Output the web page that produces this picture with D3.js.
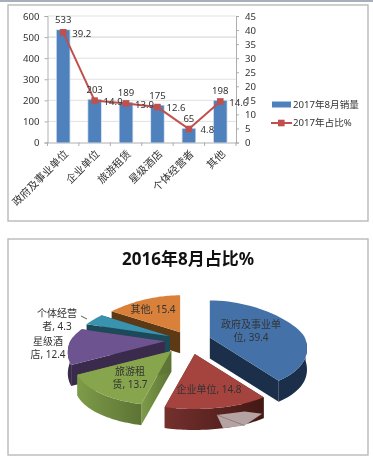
<!DOCTYPE html>
<html><head><meta charset="utf-8">
<script src="https://cdnjs.cloudflare.com/ajax/libs/d3/7.8.5/d3.min.js"></script>
<style>html,body{margin:0;padding:0;background:#fff;overflow:hidden}svg{display:block;filter:blur(.35px)}text{font-family:"Noto Sans","Noto Sans CJK SC",sans-serif;fill:#333}</style>
</head><body><script>
const categories=["政府及事业单位","企业单位","旅游租赁","星级酒店","个体经营者","其他"];
const sales2017=[533,203,189,175,65,198];
const share2017=[39.2,14.9,13.9,12.6,4.8,14.6];
const salesTicks=[0,100,200,300,400,500,600];
const shareTicks=[0,5,10,15,20,25,30,35,40,45];
const seriesNames=["2017年8月销量","2017年占比%"];
const pieTitle="2016年8月占比%";
const pieNames=["政府及事业单位","企业单位","旅游租赁","星级酒店","个体经营者","其他"];
const pieValues=[39.4,14.8,13.7,12.4,4.3,15.4];
const pieLabelLines=[["政府及事业单","位, 39.4"],["企业单位, 14.8"],["旅游租","赁, 13.7"],["星级酒","店, 12.4"],["个体经营","者, 4.3"],["其他, 15.4"]];
const pieTop=["#4472a8","#a5433f","#87a54c","#6d5390","#3a93ae","#d9813a"];
const pieWallA=["#1b2f4a","#74302d","#7d9c49","#3a2a4c","#1c4a58","#5e3a14"];
const pieWallB=["#1b2f4a","#431815","#5d7335","#3a2a4c","#1c4a58","#5e3a14"];

const svg=d3.select("body").append("svg").attr("width",373).attr("height",468);
svg.append("rect").attr("width",373).attr("height",468).attr("fill","#fff");
svg.append("rect").attr("width",373).attr("height",2).attr("fill","#a9aeb9");
const frame=(x,y,w,h)=>svg.append("rect").attr("x",x).attr("y",y).attr("width",w).attr("height",h).attr("fill","#fff").attr("stroke","#b4b4b4").attr("stroke-width",1.3);
frame(8,5,360,216);frame(8,239,360,216);

/* combo chart */
const x=d3.scaleBand().domain(categories).range([47.5,236]);
const yL=d3.scaleLinear().domain([0,600]).range([142.5,16]);
const yR=d3.scaleLinear().domain([0,45]).range([142.5,16]);
const g=svg.append("g");
g.selectAll(".grid").data(salesTicks.slice(1)).join("line").attr("x1",47.5).attr("x2",236).attr("y1",d=>yL(d)).attr("y2",d=>yL(d)).attr("stroke",d=>d===500?"#e4e4e4":"#d9d9d9").attr("stroke-width",d=>d===500?1.6:.8);
const axL=g.append("g").attr("transform","translate(47.5,0)").call(d3.axisLeft(yL).tickValues(salesTicks).tickSize(3).tickPadding(5));
const axR=g.append("g").attr("transform","translate(236,0)").call(d3.axisRight(yR).tickValues(shareTicks).tickSize(3).tickPadding(6));
const axB=g.append("g").attr("transform","translate(0,142.5)").call(d3.axisBottom(x).tickSize(0).tickFormat(""));
[axL,axR,axB].forEach(a=>{a.selectAll("path,line").attr("stroke","#a6a6a6").attr("stroke-width",.9);a.selectAll("text").attr("font-size",9.6).attr("fill","#444");});
g.selectAll(".xt").data(d3.range(7)).join("line").attr("x1",d=>47.5+d*x.step()).attr("x2",d=>47.5+d*x.step()).attr("y1",142.5).attr("y2",146).attr("stroke","#a6a6a6").attr("stroke-width",.9);
const barW=12.7,cx=c=>x(c)+x.bandwidth()/2;
g.selectAll(".halo").data(categories).join("rect").attr("x",c=>cx(c)-barW/2-.8).attr("width",barW+1.6).attr("y",(c,i)=>yL(sales2017[i])-.6).attr("height",(c,i)=>yL(0)-yL(sales2017[i])+.6).attr("fill","#c9d8ea");
g.selectAll(".bar").data(categories).join("rect").attr("x",c=>cx(c)-barW/2).attr("width",barW).attr("y",(c,i)=>yL(sales2017[i])).attr("height",(c,i)=>yL(0)-yL(sales2017[i])).attr("fill","#4f81bd");
const line=d3.line().x((d,i)=>cx(categories[i])).y(d=>yR(d));
g.append("path").attr("d",line(share2017)).attr("fill","none").attr("stroke","#c0504d").attr("stroke-width",2);
g.selectAll(".pt").data(share2017).join("rect").attr("x",(d,i)=>cx(categories[i])-3.3).attr("y",d=>yR(d)-3.3).attr("width",6.6).attr("height",6.6).attr("fill","#c0504d");
g.selectAll(".lb").data(sales2017).join("text").attr("x",(d,i)=>cx(categories[i])).attr("y",d=>yL(d)-10).attr("dy",".35em").attr("text-anchor","middle").attr("font-size",9.6).text(d=>d);
g.selectAll(".ls").data(share2017).join("text").attr("x",(d,i)=>cx(categories[i])+18.5).attr("y",d=>yR(d)+1).attr("dy",".35em").attr("text-anchor","middle").attr("font-size",9.6).text(d=>d);
g.selectAll(".cat").data(categories).join("text").attr("transform",c=>`translate(${cx(c)+3},${152}) rotate(-45)`).attr("text-anchor","end").attr("dy",".35em").attr("font-size",10.5).attr("fill","#555").text(c=>c);
/* legend */
g.append("rect").attr("x",272).attr("y",101.5).attr("width",19).attr("height",6).attr("fill","#4f81bd");
g.append("line").attr("x1",271).attr("x2",292).attr("y1",123).attr("y2",123).attr("stroke","#c0504d").attr("stroke-width",2);
g.append("rect").attr("x",278).attr("y",119.7).attr("width",6.6).attr("height",6.6).attr("fill","#c0504d");
g.selectAll(".lg").data(seriesNames).join("text").attr("x",293).attr("y",(d,i)=>105+i*18).attr("dy",".35em").attr("font-size",9.6).attr("fill","#444").text(d=>d);

/* exploded 3D pie */
const P={cx:189,cy:340.5,rx:95,back:37,front:55,k:.22,depth:21,explode:.25};
const project=(t,r=1)=>{const s=Math.sin(t),c=Math.cos(t);return [r*P.rx*s*(1-P.k*c),r*(-c)*(c>0?P.back:P.front)];};
const arcs=d3.pie().sort(null).startAngle(0).endAngle(2*Math.PI)(pieValues);
const pathOf=d3.line().x(d=>d[0]).y(d=>d[1]);
const defs=svg.append("defs");
pieValues.forEach((v,i)=>{const gr=defs.append("linearGradient").attr("id","w"+i);gr.append("stop").attr("offset","0%").attr("stop-color",pieWallA[i]);gr.append("stop").attr("offset","100%").attr("stop-color",pieWallB[i]);});
const order=[5,4,3,2,0,1];
const pg=svg.append("g");
order.forEach(i=>{
  const a=arcs[i],mid=(a.startAngle+a.endAngle)/2,off=project(mid,P.explode);
  const ax=P.cx+off[0],ay=P.cy+off[1];
  const at=t=>{const p=project(t);return [ax+p[0],ay+p[1]];};
  const down=p=>[p[0],p[1]+P.depth];
  const ts=d3.range(0,41).map(j=>a.startAngle+(a.endAngle-a.startAngle)*j/40);
  const rim=ts.map(at),apex=[ax,ay];
  const wall=pts=>pg.append("path").attr("d",pathOf(pts)+"Z").attr("fill",`url(#w${i})`).attr("stroke","none");
  wall([apex,rim[0],down(rim[0]),down(apex)]);
  wall([apex,rim[40],down(rim[40]),down(apex)]);
  const front=ts.filter(t=>Math.cos(t)<=0).map(at);
  if(front.length>1) wall(front.concat(front.map(down).reverse()));
  pg.append("path").attr("d",pathOf([apex,...rim])+"Z").attr("fill",pieTop[i]).attr("data-name",pieNames[i]);
});
/* pale patch on the red wall */
const red=arcs[1],ro=project((red.startAngle+red.endAngle)/2,P.explode);
const rp=(f,h)=>{const p=project(red.startAngle+(red.endAngle-red.startAngle)*f);return [P.cx+ro[0]+p[0],P.cy+ro[1]+p[1]+h*P.depth];};
pg.append("path").attr("d",pathOf([rp(.51,.33),rp(.23,.38),rp(.02,.76),rp(.23,1.05),rp(.45,1)])+"Z").attr("fill","#b5a3a3");
pg.append("path").attr("d",pathOf([rp(.51,.33),rp(.23,1.05)])).attr("stroke","#8a6a6a").attr("stroke-width",.7).attr("fill","none");
/* labels */
const labelPos=[[251,324],[209,389],[130,371],[48,341],[57,313],[153,309]];
pieLabelLines.forEach((ls,i)=>{ls.forEach((t,j)=>{svg.append("text").attr("x",labelPos[i][0]).attr("y",labelPos[i][1]+j*13.4).attr("dy",".35em").attr("text-anchor","middle").attr("font-size",10).attr("fill","#2a2a2a").text(t);});});
svg.append("line").attr("x1",81).attr("y1",316).attr("x2",87).attr("y2",319).attr("stroke","#333").attr("stroke-width",.8);
svg.append("text").attr("x",188).attr("y",259).attr("dy",".35em").attr("text-anchor","middle").attr("font-size",17).attr("font-weight",700).style("fill","#111").text(pieTitle);
</script></body></html>
